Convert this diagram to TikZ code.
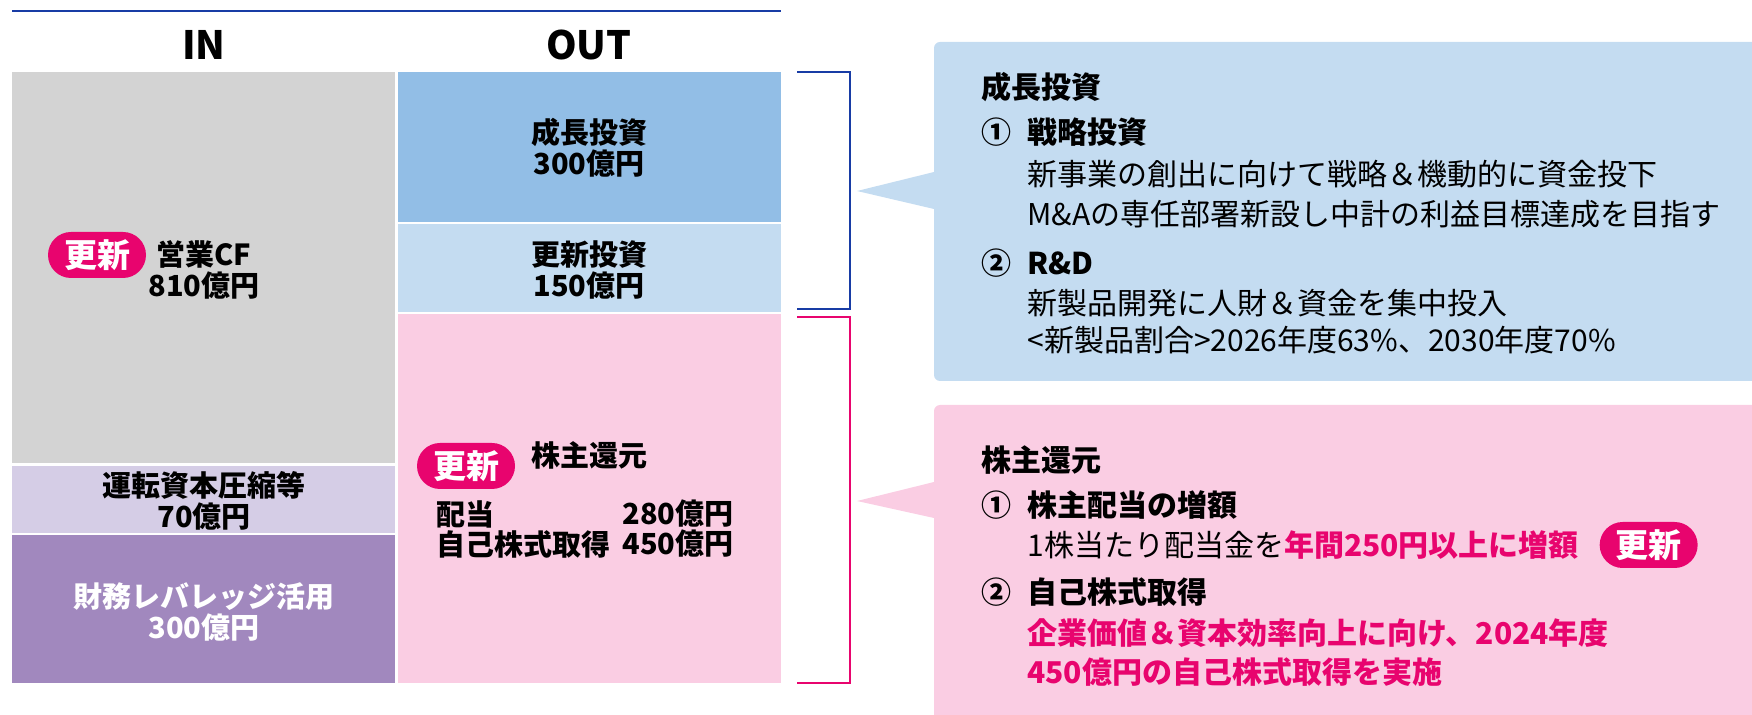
\documentclass[tikz,border=0pt]{standalone}
\usepackage{fontspec}
\setmainfont{Noto Sans CJK JP}
\usetikzlibrary{positioning}

\definecolor{lineblue}{RGB}{24,60,165}
\definecolor{cfgray}{RGB}{211,211,211}
\definecolor{wclav}{RGB}{213,205,230}
\definecolor{finpurple}{RGB}{161,136,190}
\definecolor{growblue}{RGB}{146,190,230}
\definecolor{paleblue}{RGB}{196,220,241}
\definecolor{retpink}{RGB}{250,205,227}
\definecolor{accent}{RGB}{232,4,110}

\newcommand{\bodysize}{\fontsize{15}{20}\selectfont}
\newcommand{\boxsize}{\fontsize{14.5}{15.5}\selectfont}

\begin{document}
\begin{tikzpicture}[x=0.5pt,y=-0.5pt]
  \tikzstyle{boxtext}=[inner sep=0pt,font=\boxsize\bfseries,align=center]
  \tikzstyle{textline}=[inner sep=0pt,anchor=west,font=\bodysize]
  \tikzstyle{headline}=[textline,font=\bodysize\bfseries]
  \tikzstyle{badge}=[rounded corners=11.5pt,fill=accent,text=white,minimum width=49pt,
    minimum height=23pt,inner sep=0pt,font=\fontsize{16.5}{16.5}\selectfont\bfseries]

  \clip (0,0) rectangle (1752,715);

  % header
  \draw[lineblue, line width=1.4pt] (12,11) -- (781,11);
  \node[font=\fontsize{19.5}{19.5}\selectfont\bfseries] (in) at (204,45) {IN};
  \node[font=\fontsize{19.5}{19.5}\selectfont\bfseries] (out) at (589,45) {OUT};

  % IN column
  \path[fill=cfgray] (12,72) rectangle (395,463);
  \path[fill=wclav] (12,466) rectangle (395,533);
  \path[fill=finpurple] (12,535) rectangle (395,683);

  % OUT column
  \path[fill=growblue] (398,72) rectangle (781,222);
  \path[fill=paleblue] (398,224) rectangle (781,312);
  \path[fill=retpink] (398,314) rectangle (781,683);

  \node[badge] (cfnew) at (97,255) {更新};
  \node[boxtext] (cf) at (204,270) {営業CF\\810億円};
  \node[boxtext] (wc) at (204,501) {運転資本圧縮等\\70億円};
  \node[boxtext, text=white] (fin) at (204,612) {財務レバレッジ活用\\300億円};

  \node[boxtext] (grow) at (589,148) {成長投資\\300億円};
  \node[boxtext] (renew) at (589,270) {更新投資\\150億円};

  \node[badge] (retnew) at (466,466) {更新};
  \node[textline, font=\boxsize\bfseries] (ret) at (531,455) {株主還元};
  \node[textline, font=\boxsize\bfseries] (div) at (436,514) {配当};
  \node[textline, font=\boxsize\bfseries] (divval) at (622,514) {280億円};
  \node[textline, font=\boxsize\bfseries] (buy) at (436,544) {自己株式取得};
  \node[textline, font=\boxsize\bfseries] (buyval) at (622,544) {450億円};

  % brackets
  \foreach \col/\top/\bot in {lineblue/72/309, accent/317/683}
    \draw[\col, line width=1.4pt] (797,\top) -- (850,\top) -- (850,\bot) -- (797,\bot);

  % callouts
  \path[fill=paleblue, rounded corners=3pt] (934,42) rectangle (1790,381);
  \path[fill=paleblue] (934,172) -- (857,191) -- (934,209) -- cycle;
  \path[fill=retpink, rounded corners=3pt] (934,405) rectangle (1790,740);
  \path[fill=retpink] (934,482) -- (857,501) -- (934,518) -- cycle;

  \node[headline] (growhead) at (981,87) {成長投資};
  \node[headline] (g1) at (981,132) {①};
  \node[headline] (strat) at (1027,132) {戦略投資};
  \node[textline] (strat1) at (1027,174) {新事業の創出に向けて戦略＆機動的に資金投下};
  \node[textline] (strat2) at (1027,214) {M\&Aの専任部署新設し中計の利益目標達成を目指す};
  \node[headline] (g2) at (981,263) {②};
  \node[headline] (rd) at (1027,263) {R\&D};
  \node[textline] (rd1) at (1027,303) {新製品開発に人財＆資金を集中投入};
  \node[textline] (rd2) at (1027,340) {<新製品割合>2026年度63\%、2030年度70\%};

  \node[headline] (rethead) at (981,460) {株主還元};
  \node[headline] (r1) at (981,505) {①};
  \node[headline] (divup) at (1027,505) {株主配当の増額};
  \node[textline] (divup1) at (1027,545)
    {1株当たり配当金を\textcolor{accent}{\bfseries 年間250円以上に増額}};
  \node[badge, right=10pt of divup1] (divnew) {更新};
  \node[headline] (r2) at (981,592) {②};
  \node[headline] (buyback) at (1027,592) {自己株式取得};
  \node[headline, text=accent] (buy1) at (1027,633) {企業価値＆資本効率向上に向け、2024年度};
  \node[headline, text=accent] (buy2) at (1027,672) {450億円の自己株式取得を実施};
\end{tikzpicture}
\end{document}
